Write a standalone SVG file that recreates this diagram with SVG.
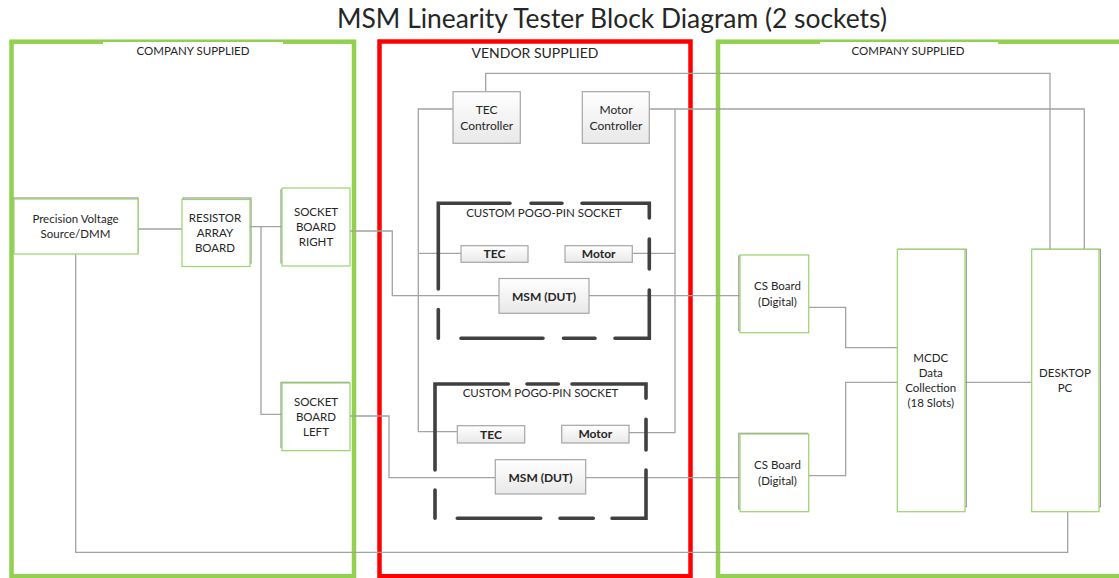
<svg xmlns="http://www.w3.org/2000/svg" width="1119" height="578" viewBox="0 0 1119 578">
<style>
text{font-family:Lato,"Liberation Sans",sans-serif;fill:#262626;text-anchor:middle}
.t{font-size:11.5px}
.b{font-size:12px;font-weight:bold}
.frameG{fill:none;stroke:#92d050;stroke-width:4.5}
.frameR{fill:none;stroke:#ff0000;stroke-width:4.5}
.gb{fill:#fff;stroke:#9bd36a;stroke-width:1.2}
.sh{fill:none;stroke:#9a9a9a;stroke-width:1.2}
.gr{fill:url(#grad);stroke:#a6a6a6;stroke-width:1.2}
.c{fill:none;stroke:#a3a3a3;stroke-width:1.3}
.dash{fill:none;stroke:#404040;stroke-width:3.6;stroke-linecap:round;stroke-linejoin:miter}
</style>
<defs>
<linearGradient id="grad" x1="0" y1="0" x2="0" y2="1">
<stop offset="0" stop-color="#ffffff"/>
<stop offset="1" stop-color="#e8e8e8"/>
</linearGradient>
</defs>
<rect width="1119" height="578" fill="#fff"/>
<text x="612" y="28" style="font-size:26px" textLength="550" lengthAdjust="spacingAndGlyphs">MSM Linearity Tester Block Diagram (2 sockets)</text>

<g id="frames">
<rect class="frameG" x="11.5" y="41.7" width="342.5" height="534.5"/>
<rect x="103" y="42" width="180" height="14" fill="#fff"/>
<text class="t" x="193" y="55">COMPANY SUPPLIED</text>
<rect class="frameR" x="379.5" y="41.5" width="311" height="534.7"/>
<text x="535" y="58" style="font-size:14px">VENDOR SUPPLIED</text>
<rect class="frameG" x="718" y="41.7" width="410" height="534.5"/>
<rect x="820" y="42" width="178" height="14" fill="#fff"/>
<text class="t" x="908" y="55">COMPANY SUPPLIED</text>
</g>

<g id="connectors">
<path class="c" d="M138,229 H182"/>
<path class="c" d="M250,226.7 H282 M261,226.7 V414.3 H282"/>
<path class="c" d="M75.7,254.3 V552.3 H1067.7 V512"/>
<path class="c" d="M350,231 H392.3 V295.7 H499"/>
<path class="c" d="M350,416 H389 V477.7 H495.3"/>
<path class="c" d="M485.7,91.7 V73.3 H1050 V249.3"/>
<path class="c" d="M649.3,109 H1084.3 V249.3"/>
<path class="c" d="M675,109 V432.7 H629 M632.3,253.3 H675"/>
<path class="c" d="M453,109 H418.3 V431.7 H457.3 M418.3,253.3 H461"/>
<path class="c" d="M589,295.7 H740"/>
<path class="c" d="M585.7,477.7 H740"/>
<path class="c" d="M808.7,307.3 H845.7 V347.7 H897.3"/>
<path class="c" d="M808.7,475.7 H845.7 V382.3 H897.3"/>
<path class="c" d="M965,382.3 H1031.7"/>
</g>

<g id="precision">
<rect class="sh" x="14" y="198" width="124" height="55"/>
<rect class="gb" x="14" y="199" width="124" height="55"/>
<text class="t" x="75.5" y="223">Precision Voltage</text>
<text class="t" x="75.5" y="237.5">Source/DMM</text>
</g>
<g id="resistor">
<rect class="sh" x="183" y="198" width="68" height="65"/>
<rect class="gb" x="182" y="199.5" width="68" height="67"/>
<text class="t" x="215" y="221.5">RESISTOR</text>
<text class="t" x="215" y="236.5">ARRAY</text>
<text class="t" x="215" y="251.5">BOARD</text>
</g>
<g id="socket-right">
<rect class="sh" x="281" y="190" width="68" height="73"/>
<rect class="gb" x="282" y="188" width="68" height="78"/>
<text class="t" x="316" y="216">SOCKET</text>
<text class="t" x="316" y="231">BOARD</text>
<text class="t" x="316" y="246">RIGHT</text>
</g>
<g id="socket-left">
<rect class="sh" x="281" y="382.3" width="68" height="65"/>
<rect class="gb" x="282" y="383" width="68" height="67.7"/>
<text class="t" x="316" y="406">SOCKET</text>
<text class="t" x="316" y="421">BOARD</text>
<text class="t" x="316" y="436">LEFT</text>
</g>

<g id="tec-controller">
<rect class="gr" x="453" y="91.7" width="67.3" height="51.6"/>
<text class="t" x="486.7" y="113.5" style="font-size:12px">TEC</text>
<text class="t" x="486.7" y="129.5" style="font-size:12px">Controller</text>
</g>
<g id="motor-controller">
<rect class="gr" x="582.3" y="91.7" width="67" height="51.6"/>
<text class="t" x="616" y="113.5" style="font-size:12px">Motor</text>
<text class="t" x="616" y="129.5" style="font-size:12px">Controller</text>
</g>

<g id="socket-top">
<path class="dash" d="M438.3,289 V203.3 H510 M531,203.3 H562 M582,203.3 H649.3 V218 M649.3,239 V269 M649.3,290 V338.3 H615 M595,338.3 H563.5 M543,338.3 H461 M438.3,338.3 V309.5"/>
<text class="t" x="544" y="217.3">CUSTOM POGO-PIN SOCKET</text>
</g>
<g id="tec-top">
<rect class="gr" x="461" y="245.7" width="67" height="16.6"/>
<text class="b" x="494.5" y="258.3">TEC</text>
</g>
<g id="motor-top">
<rect class="gr" x="565" y="245.7" width="67.3" height="16.6"/>
<text class="b" x="598.7" y="258.3">Motor</text>
</g>
<g id="msm-top">
<rect class="gr" x="499" y="278.5" width="90" height="34.8"/>
<text class="b" x="544" y="300.8">MSM (DUT)</text>
</g>

<g id="socket-bottom">
<path class="dash" d="M435,470 V384 H508.3 M527,384 H558.3 M572,384 H646 V398.3 M646,419.3 V450 M646,470 V518.3 H612 M593.3,518.3 H560 M540.7,518.3 H457.3 M435,518.3 V490"/>
<text class="t" x="540.5" y="397.3">CUSTOM POGO-PIN SOCKET</text>
</g>
<g id="tec-bottom">
<rect class="gr" x="457.3" y="425.7" width="67.4" height="17.3"/>
<text class="b" x="491" y="438.5">TEC</text>
</g>
<g id="motor-bottom">
<rect class="gr" x="561.7" y="425.3" width="67.3" height="17.7"/>
<text class="b" x="595.3" y="438.3">Motor</text>
</g>
<g id="msm-bottom">
<rect class="gr" x="495.3" y="459.7" width="90.4" height="34.3"/>
<text class="b" x="540.5" y="481.5">MSM (DUT)</text>
</g>

<g id="cs-top">
<rect class="sh" x="738.8" y="256" width="68.7" height="74.7"/>
<rect class="gb" x="740" y="255" width="68.7" height="77.7"/>
<text class="t" x="777.5" y="290">CS Board</text>
<text class="t" x="777.5" y="305.5">(Digital)</text>
</g>
<g id="cs-bottom">
<rect class="sh" x="738.8" y="433.3" width="68.7" height="75.7"/>
<rect class="gb" x="740" y="434" width="68.7" height="77.7"/>
<text class="t" x="777.5" y="469">CS Board</text>
<text class="t" x="777.5" y="484.5">(Digital)</text>
</g>
<g id="mcdc">
<rect class="sh" x="898.7" y="249.3" width="67.6" height="257.4"/>
<rect class="gb" x="897.3" y="249.3" width="67.7" height="262.4"/>
<text class="t" x="930.7" y="361.5">MCDC</text>
<text class="t" x="930.7" y="376.8">Data</text>
<text class="t" x="930.7" y="392">Collection</text>
<text class="t" x="930.7" y="407.3">(18 Slots)</text>
</g>
<g id="desktop">
<rect class="sh" x="1033" y="249.3" width="67.4" height="257.4"/>
<rect class="gb" x="1031.7" y="249.3" width="67.3" height="262.4"/>
<text class="t" x="1065" y="377">DESKTOP</text>
<text class="t" x="1065" y="392">PC</text>
</g>
</svg>
